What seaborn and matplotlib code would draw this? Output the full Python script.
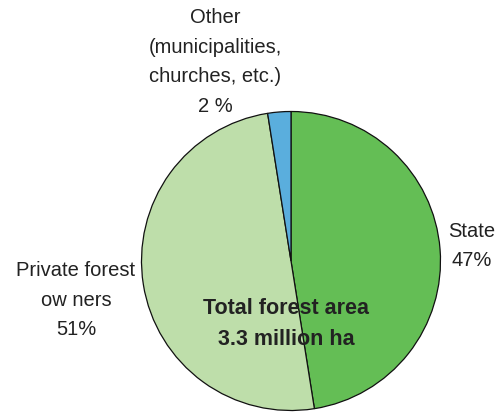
import matplotlib
matplotlib.use("Agg")
import matplotlib.pyplot as plt
import seaborn as sns

categories = ["State", "Private forest owners", "Other (municipalities, churches, etc.)"]
shares = [47.5, 50.0, 2.5]
colors = ["#64BE55", "#BEDEAA", "#5AAEDD"]
label_state = "State\n47%"
label_private = "Private forest\now ners\n51%"
label_other = "Other\n(municipalities,\nchurches, etc.)\n2 %"
center_title = "Total forest area\n3.3 million ha"

sns.set_theme(style="white")
plt.rcParams['font.family'] = ['Liberation Sans', 'DejaVu Sans']

W, H = 500, 412
fig = plt.figure(figsize=(W / 100, H / 100), dpi=100)
fig.patch.set_facecolor("white")

# pie axes: center (291,261) px, radius 149.5 px
cx, cy, r = 291, 261, 149.5
ax = fig.add_axes([(cx - r) / W, (H - cy - r) / H, 2 * r / W, 2 * r / H])
ax.pie(shares, colors=colors, startangle=90, counterclock=False,
       wedgeprops=dict(edgecolor="#111111", linewidth=0.9))
ax.set_xlim(-1, 1)
ax.set_ylim(-1, 1)
ax.set_aspect("equal")
for p in ax.patches:
    p.set_clip_on(False)

tc = "#222222"

def px(x, y):
    return x / W, 1 - y / H

fig.text(*px(215, 62), label_other, ha="center", va="center",
         fontsize=14.5, color=tc, linespacing=1.70)
fig.text(*px(472, 246), label_state, ha="center", va="center",
         fontsize=14.5, color=tc, linespacing=1.70)
fig.text(*px(76, 300), label_private, ha="center", va="center",
         fontsize=14.5, color=tc, linespacing=1.70)
fig.text(*px(286, 324), center_title, ha="center", va="center",
         fontsize=15.5, fontweight="bold", color=tc, linespacing=1.59)

fig.savefig("out.png", dpi=100, facecolor="white")
